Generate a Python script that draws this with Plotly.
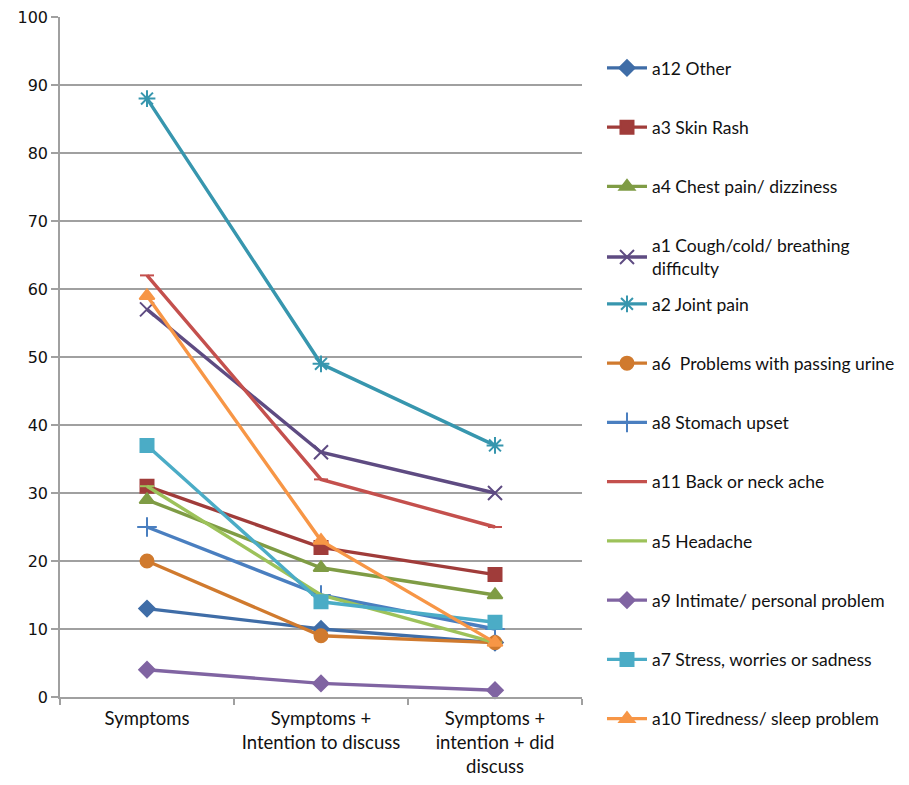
import plotly.graph_objects as go

categories = ["Symptoms", "Symptoms +<br>Intention to discuss", "Symptoms +<br>intention + did<br>discuss"]

names = [
    "a12 Other",
    "a3 Skin Rash",
    "a4 Chest pain/ dizziness",
    "a1 Cough/cold/ breathing<br>difficulty",
    "a2 Joint pain",
    "a6\u00a0 Problems with passing urine",
    "a8 Stomach upset",
    "a11 Back or neck ache",
    "a5 Headache",
    "a9 Intimate/ personal problem",
    "a7 Stress, worries or sadness",
    "a10 Tiredness/ sleep problem",
]

a12_other = [13, 10, 8]
a3_skin_rash = [31, 22, 18]
a4_chest_pain = [29, 19, 15]
a1_cough = [57, 36, 30]
a2_joint_pain = [88, 49, 37]
a6_urine = [20, 9, 8]
a8_stomach = [25, 15, 10]
a11_back = [62, 32, 25]
a5_headache = [31, 15, 8]
a9_intimate = [4, 2, 1]
a7_stress = [37, 14, 11]
a10_tiredness = [59, 23, 8]

y_ticks = [0, 10, 20, 30, 40, 50, 60, 70, 80, 90, 100]

values = [a12_other, a3_skin_rash, a4_chest_pain, a1_cough, a2_joint_pain, a6_urine,
          a8_stomach, a11_back, a5_headache, a9_intimate, a7_stress, a10_tiredness]

colors = ["#3F6DA7", "#A03C3A", "#7F9C45", "#5E4B82", "#3796AE", "#D07A2E",
          "#4A7FC0", "#C4504D", "#9DC25A", "#8064A2", "#4BACC6", "#F79646"]
symbols = ["diamond", "square", "triangle-up", "x-thin-open", "asterisk-open", "circle",
           "cross-thin-open", "line-ew-open", "line-ew-open", "diamond", "square", "triangle-up"]
sizes = [12, 13, 13, 14, 14, 13, 14, 10, 10, 12, 13, 13]

fig = go.Figure()
for i, (nm, vals) in enumerate(zip(names, values)):
    fig.add_trace(go.Scatter(
        x=categories, y=vals, name=nm, mode="lines+markers",
        line=dict(color=colors[i], width=3.4),
        marker=dict(symbol=symbols[i], size=sizes[i], color=colors[i],
                    line=dict(color=colors[i], width=2)),
        cliponaxis=False,
        legend="legend" if i < 4 else "legend2",
        legendgroup=f"g{i}",
    ))

font_txt = "Lato, Calibri, Carlito, sans-serif"
gray = "#a0a0a0"

legend_common = dict(
    xanchor="left", yanchor="top", x=1.0383, xref="paper", yref="paper",
    font=dict(family=font_txt, size=17.5, color="#111111"),
    traceorder="grouped", tracegroupgap=33.5, itemwidth=40,
    bgcolor="rgba(0,0,0,0)", borderwidth=0, itemclick=False,
)

fig.update_layout(
    width=901, height=777,
    margin=dict(l=52, r=327, t=9, b=88, autoexpand=False),
    plot_bgcolor="white", paper_bgcolor="white",
    showlegend=True,
    legend=dict(**legend_common, y=(697 - 50) / 680),
    legend2=dict(**legend_common, y=(697 - 286) / 680),
    xaxis=dict(
        type="category", range=[-0.5, 2.5], showgrid=False,
        showline=True, linecolor=gray, linewidth=1.5,
        ticks="outside", tickson="boundaries", ticklen=6, tickcolor=gray, tickwidth=1.5,
        ticklabelstandoff=4,
        tickfont=dict(family=font_txt, size=18.5, color="#111111"),
    ),
    yaxis=dict(
        range=[0, 100], tickmode="array", tickvals=y_ticks,
        ticktext=[str(v) for v in y_ticks], ticklabeloverflow="allow",
        showgrid=True, gridcolor=gray, gridwidth=1.5,
        showline=True, linecolor=gray, linewidth=1.5,
        ticks="outside", ticklen=7, tickcolor=gray, tickwidth=1.5,
        tickfont=dict(family="DejaVu Sans, Verdana, sans-serif", size=16, color="#111111"),
        zeroline=False,
    ),
)

fig.write_html("out.html")
